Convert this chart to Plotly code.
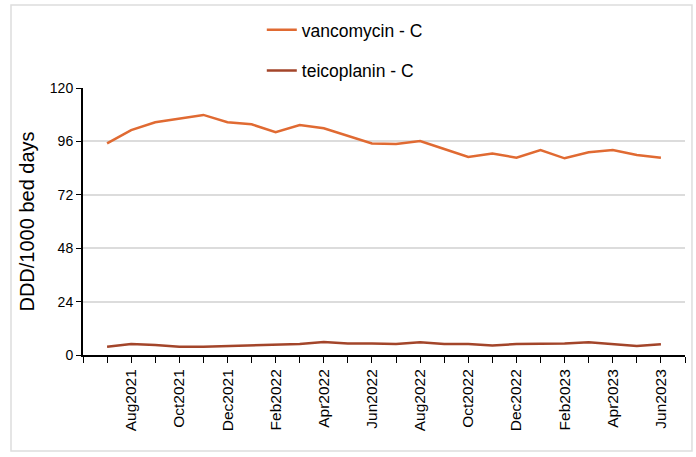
import plotly.graph_objects as go

months = ["Jul2021", "Aug2021", "Sep2021", "Oct2021", "Nov2021", "Dec2021",
          "Jan2022", "Feb2022", "Mar2022", "Apr2022", "May2022", "Jun2022",
          "Jul2022", "Aug2022", "Sep2022", "Oct2022", "Nov2022", "Dec2022",
          "Jan2023", "Feb2023", "Mar2023", "Apr2023", "May2023", "Jun2023"]

vancomycin = [95.1, 101.1, 104.6, 106.4, 107.9, 104.6, 103.7, 100.1, 103.4, 101.9,
              98.6, 95.1, 94.8, 96.2, 92.6, 89.0, 90.6, 88.7, 92.1, 88.4,
              91.1, 92.1, 89.9, 88.7]

teicoplanin = [3.7, 4.9, 4.5, 3.7, 3.7, 4.0, 4.5, 4.9, 4.9, 5.8,
               5.2, 5.2, 4.9, 5.7, 4.9, 4.9, 4.3, 4.9, 4.9, 5.2,
               5.7, 4.9, 4.0, 4.8]

y_ticks = [0, 24, 48, 72, 96, 120]

x_idx = list(range(len(months)))
tick_vals = list(range(-1, len(months) + 1))
tick_text = [""] + [m if i % 2 == 1 else "" for i, m in enumerate(months)] + [""]

fig = go.Figure()
fig.add_trace(go.Scatter(x=x_idx, y=vancomycin, mode="lines", name="vancomycin - C",
                         line=dict(color="#e06a32", width=2.5), legendgroup="a"))
fig.add_trace(go.Scatter(x=x_idx, y=teicoplanin, mode="lines", name="teicoplanin - C",
                         line=dict(color="#a3452a", width=2.5), legendgroup="b"))

fig.update_layout(
    width=696, height=457,
    margin=dict(l=83, r=11, t=88, b=102),
    paper_bgcolor="white", plot_bgcolor="white",
    font=dict(family="Liberation Sans, Arial, sans-serif", color="#000000", size=14),
    legend=dict(x=0.297, y=1.285, xanchor="left", yanchor="top",
                font=dict(size=17.5), tracegroupgap=15, bgcolor="rgba(0,0,0,0)"),
    xaxis=dict(range=[-1, 24], tickmode="array", tickvals=tick_vals, ticktext=tick_text,
               tickangle=-90, ticks="outside", ticklen=6, tickcolor="#000",
               showline=True, linecolor="#000", linewidth=2, showgrid=False,
               zeroline=False, tickfont=dict(size=15.5)),
    yaxis=dict(range=[0, 120], tickmode="array", tickvals=y_ticks,
               ticks="outside", ticklen=5, tickcolor="#000",
               showline=True, linecolor="#000", linewidth=2,
               showgrid=True, gridcolor="#dcdcdc", gridwidth=1.5, zeroline=False,
               title=dict(text="DDD/1000 bed days", font=dict(size=20), standoff=10),
               tickfont=dict(size=14)),
    shapes=[dict(type="rect", xref="paper", yref="paper",
                 x0=-0.1196, x1=1.0116, y0=-0.3596, y1=1.3109,
                 line=dict(color="#dddddd", width=1.5), fillcolor="rgba(0,0,0,0)",
                 layer="below")],
)

fig.write_html("out.html", config={"displayModeBar": False},
               post_script="document.body.style.margin='0';")
